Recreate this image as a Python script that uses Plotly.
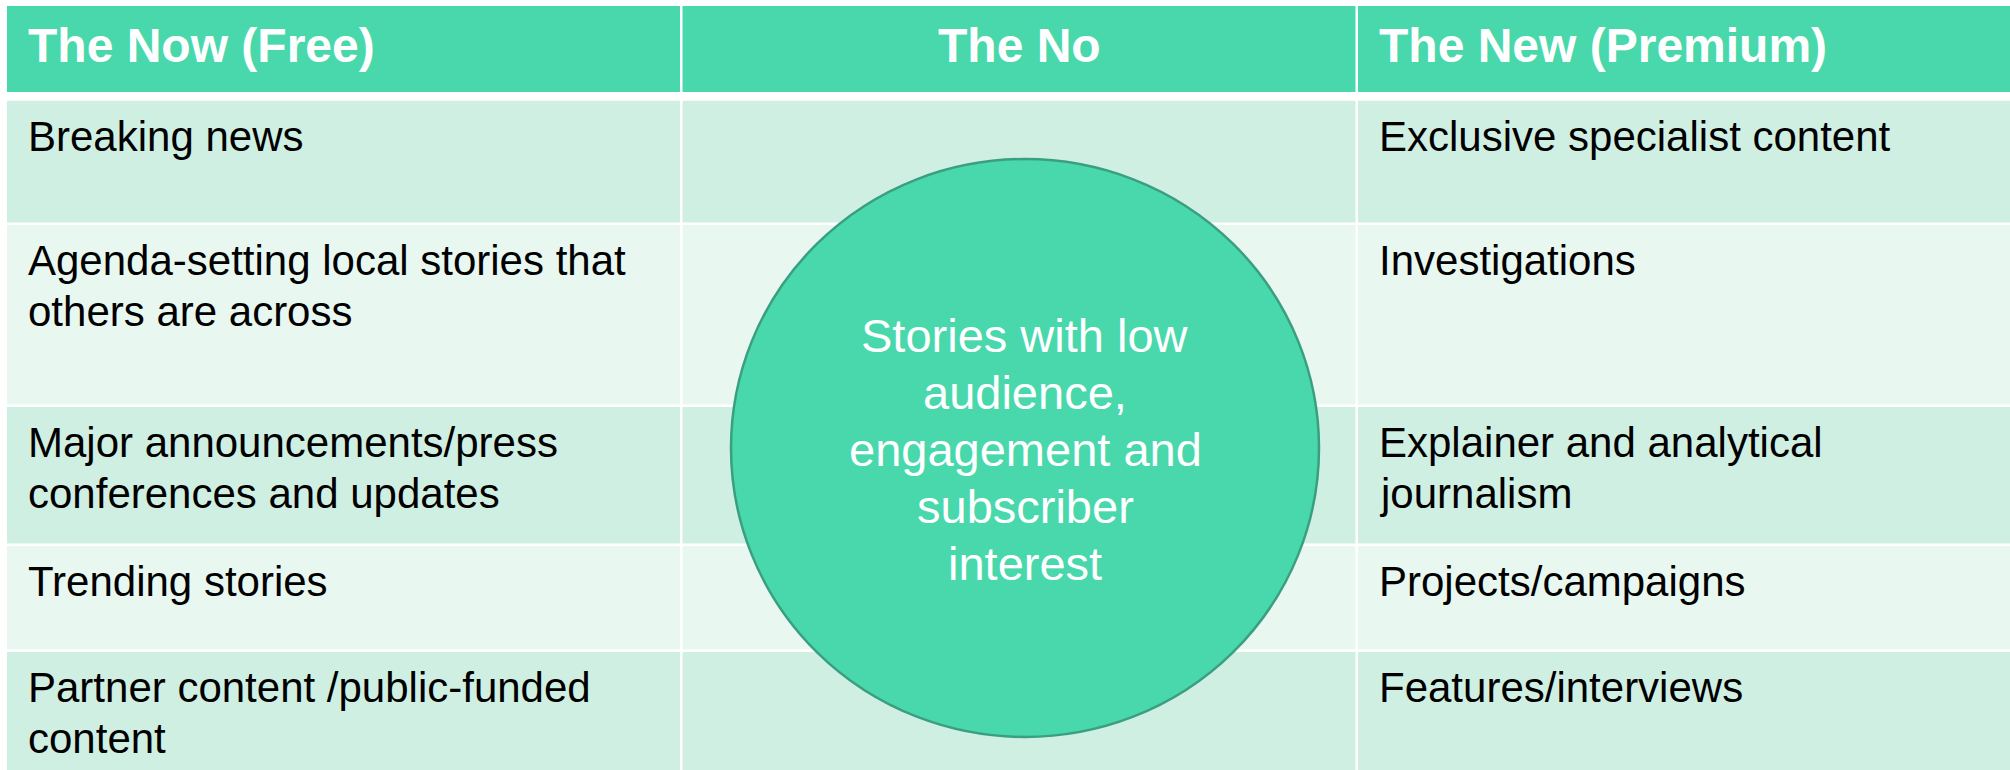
import plotly.graph_objects as go

# ---------------- data ----------------
header_labels = ["The Now (Free)", "The No", "The New (Premium)"]
now_free_items = [
    "Breaking news",
    "Agenda-setting local stories that<br>others are across",
    "Major announcements/press<br>conferences and updates",
    "Trending stories",
    "Partner content /public-funded<br>content",
]
new_premium_items = [
    "Exclusive specialist content",
    "Investigations",
    "Explainer and analytical<br>journalism",
    "Projects/campaigns",
    "Features/interviews",
]
circle_text = "Stories with low<br>audience,<br>engagement and<br>subscriber<br>interest"

# ---------------- layout constants ----------------
W, H = 2010, 770
col_edges = [(7, 680), (682.5, 1355.5), (1358, 2020)]
header_band = (6, 92)
row_bands = [(100.7, 222.5), (225, 404.5), (407, 543.5), (546, 649.5), (652, 780)]
HEADER_COLOR = "#48D8AC"
ROW_DARK = "#D0EFE3"
ROW_LIGHT = "#E9F7F1"
CIRCLE_FILL = "#48D8AC"
CIRCLE_LINE = "#3A9F81"
FONT = "Liberation Sans, Arial, sans-serif"
BODY_SIZE = 42
HEAD_SIZE = 48
CIRCLE_SIZE = 47
BODY_LINE_GAP = 51
CIRCLE_LINE_GAP = 57
TEXT_PAD = 20
FIRST_LINE_OFFSET = 35.5
circle_box = dict(x0=731, x1=1319, y0=159, y1=737)

fig = go.Figure()
fig.add_trace(go.Scatter(x=[0, W], y=[0, H], mode="markers",
                         marker=dict(opacity=0), hoverinfo="skip", showlegend=False))

shapes = []
annotations = []

# header cells
for (cx0, cx1), label in zip(col_edges, header_labels):
    shapes.append(dict(type="rect", xref="x", yref="y", x0=cx0, x1=cx1,
                       y0=header_band[0], y1=header_band[1],
                       fillcolor=HEADER_COLOR, line=dict(width=0), layer="below"))
    centered = label == "The No"
    annotations.append(dict(
        x=(cx0 + cx1) / 2 if centered else cx0 + TEXT_PAD - 1,
        y=45, xref="x", yref="y", text="<b>" + label + "</b>", showarrow=False,
        xanchor="center" if centered else "left", yanchor="middle",
        font=dict(family=FONT, size=HEAD_SIZE, color="white")))

# body cells
for i, (ry0, ry1) in enumerate(row_bands):
    color = ROW_DARK if i % 2 == 0 else ROW_LIGHT
    for (cx0, cx1) in col_edges:
        shapes.append(dict(type="rect", xref="x", yref="y", x0=cx0, x1=cx1,
                           y0=ry0, y1=ry1, fillcolor=color, line=dict(width=0),
                           layer="below"))
    for col_idx, items in ((0, now_free_items), (2, new_premium_items)):
        lines = items[i].split("<br>")
        for k, line in enumerate(lines):
            annotations.append(dict(
                x=col_edges[col_idx][0] + TEXT_PAD - 1,
                y=ry0 + FIRST_LINE_OFFSET + k * BODY_LINE_GAP,
                xref="x", yref="y", text=line, showarrow=False,
                xanchor="left", yanchor="middle",
                font=dict(family=FONT, size=BODY_SIZE, color="black")))

# circle
shapes.append(dict(type="circle", xref="x", yref="y", **circle_box,
                   fillcolor=CIRCLE_FILL, line=dict(color=CIRCLE_LINE, width=2.5),
                   layer="above"))
ccx = (circle_box["x0"] + circle_box["x1"]) / 2
ccy = (circle_box["y0"] + circle_box["y1"]) / 2 + 1
c_lines = circle_text.split("<br>")
n = len(c_lines)
for k, line in enumerate(c_lines):
    annotations.append(dict(
        x=ccx, y=ccy + (k - (n - 1) / 2) * CIRCLE_LINE_GAP,
        xref="x", yref="y", text=line, showarrow=False,
        xanchor="center", yanchor="middle",
        font=dict(family=FONT, size=CIRCLE_SIZE, color="white")))

fig.update_layout(
    width=W, height=H,
    margin=dict(l=0, r=0, t=0, b=0),
    paper_bgcolor="white", plot_bgcolor="white",
    xaxis=dict(range=[0, W], visible=False, fixedrange=True),
    yaxis=dict(range=[H, 0], visible=False, fixedrange=True),
    shapes=shapes, annotations=annotations,
    showlegend=False,
)

fig.write_html("out.html", config={"displayModeBar": False},
               post_script="document.body.style.margin='0';document.body.style.overflow='hidden';")
